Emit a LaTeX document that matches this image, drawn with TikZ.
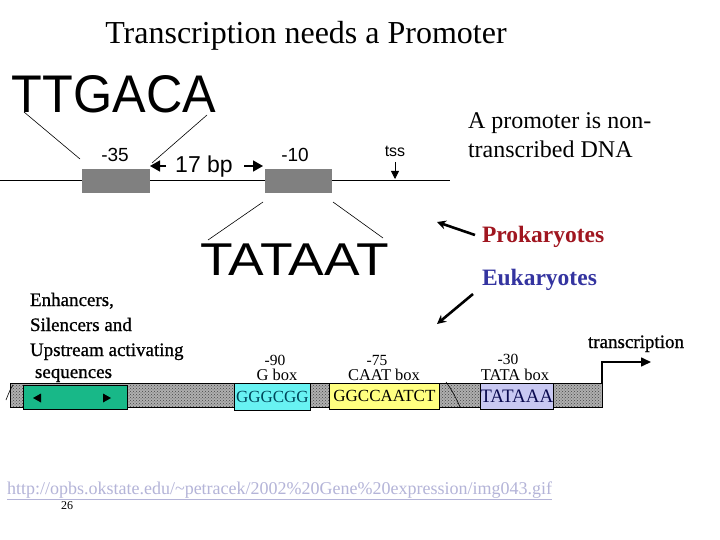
\documentclass[tikz,border=0pt]{standalone}
\usepackage{fontspec}
\setmainfont{Liberation Serif}
\newfontfamily\sansf{Liberation Sans}
\newfontfamily\heavyserif[FakeBold=0.8]{Liberation Serif}
\usetikzlibrary{arrows.meta,patterns}
\definecolor{progray}{RGB}{128,128,128}
\definecolor{bargray}{RGB}{175,175,175}
\definecolor{greenbox}{RGB}{24,184,136}
\definecolor{cyanbox}{RGB}{104,242,242}
\definecolor{yellowbox}{RGB}{255,255,128}
\definecolor{lavbox}{RGB}{200,200,242}
\definecolor{prored}{RGB}{160,22,32}
\definecolor{eukblue}{RGB}{52,52,160}
\definecolor{urlc}{RGB}{180,180,216}
\definecolor{gtext}{RGB}{0,70,90}
\definecolor{ttext}{RGB}{10,10,80}
\begin{document}
\begin{tikzpicture}[x=1pt,y=-1pt,
  txt/.style={inner sep=0pt, outer sep=0pt},
  thinline/.style={line width=0.6pt},
  fatarrow/.style={line width=2.6pt, -{Stealth[length=9pt,width=9pt]}},
  seqbox/.style={draw=black, line width=0.8pt, inner sep=0pt, anchor=north west},
  graybox/.style={fill=progray, inner sep=0pt, anchor=north west, minimum width=68pt, minimum height=24pt},
  lbl/.style={txt, anchor=base, font=\fontsize{16.5}{18}\selectfont},
  numlbl/.style={txt, anchor=base, font=\fontsize{15.5}{17}\selectfont}
]
\useasboundingbox (0,0) rectangle (720,540);
\fill[white] (0,0) rectangle (720,540);

% title
\node[txt, anchor=base] (title) at (306,44) {\fontsize{32}{36}\selectfont Transcription needs a Promoter};

% ---------- prokaryotic promoter graphic ----------
\coordinate (dnaL) at (0,181);
\coordinate (dnaR) at (450,181);
\draw[line width=1pt] (dnaL) -- (dnaR);
\node[graybox] (b35) at (82,169) {};
\node[graybox, minimum width=67pt] (b10) at (265,169) {};
\node[txt, anchor=base] (m35) at (115,162) {\sansf\fontsize{19}{22}\selectfont -35};
\node[txt, anchor=base] (m10) at (295,162) {\sansf\fontsize{19}{22}\selectfont -10};
\node[txt, anchor=base] (bp) at (204,173) {\sansf\fontsize{23}{26}\selectfont 17 bp};
\coordinate (bpLs) at (166,166);
\coordinate (bpLt) at (150,166);
\coordinate (bpRs) at (244,166);
\coordinate (bpRt) at (263,166);
\draw[line width=1.6pt, -{Triangle[length=10pt,width=11pt]}] (bpLs) -- (bpLt);
\draw[line width=1.6pt, -{Triangle[length=10pt,width=11pt]}] (bpRs) -- (bpRt);
\node[txt, anchor=base west] (ttgaca) at (12,113) {\sansf\fontsize{53}{60}\selectfont\scalebox{0.95}[1]{TTGACA}};
\node[txt, anchor=base west] (tataat) at (200,275) {\sansf\fontsize{46}{52}\selectfont\scalebox{1.16}[1]{TATAAT}};
\coordinate (t1a) at (24,112);  \coordinate (t1b) at (80,159);
\coordinate (t2a) at (207,115); \coordinate (t2b) at (152,163);
\draw[thinline] (t1a) -- (t1b);
\draw[thinline] (t2a) -- (t2b);
\coordinate (u1a) at (263,202); \coordinate (u1b) at (208,240);
\coordinate (u2a) at (333,202); \coordinate (u2b) at (383,238);
\draw[thinline] (u1a) -- (u1b);
\draw[thinline] (u2a) -- (u2b);
\node[txt, anchor=base] (tss) at (395,157) {\sansf\fontsize{16}{18}\selectfont tss};
\coordinate (tssa) at (395,162);
\coordinate (tssb) at (395,179);
\draw[line width=0.8pt, -{Triangle[length=8pt,width=8pt]}] (tssa) -- (tssb);

% ---------- right-hand text ----------
\node[txt, anchor=base west] (prom1) at (468,129) {\fontsize{24}{26}\selectfont A promoter is non-};
\node[txt, anchor=base west] (prom2) at (468,158) {\fontsize{24}{26}\selectfont transcribed DNA};
\node[txt, anchor=base west, text=prored] (pro) at (482,243) {\fontsize{23.5}{26}\selectfont\bfseries Prokaryotes};
\node[txt, anchor=base west, text=eukblue] (euk) at (482,285) {\fontsize{23.5}{26}\selectfont\bfseries Eukaryotes};
\coordinate (pa) at (475,235); \coordinate (pb) at (437,222);
\coordinate (ea) at (473,294); \coordinate (eb) at (437,324);
\draw[fatarrow] (pa) -- (pb);
\draw[fatarrow] (ea) -- (eb);

% ---------- eukaryotic promoter graphic ----------
\node[txt, anchor=base west] (enh1) at (30,306) {\heavyserif\fontsize{19}{22}\selectfont Enhancers,};
\node[txt, anchor=base west] (enh2) at (30,331) {\heavyserif\fontsize{19}{22}\selectfont Silencers and};
\node[txt, anchor=base west] (enh3) at (30,356) {\heavyserif\fontsize{19}{22}\selectfont Upstream activating};
\node[txt, anchor=base west] (enh4) at (35,378) {\heavyserif\fontsize{19}{22}\selectfont sequences};

\draw[line width=0.9pt, fill=bargray] (10,383) rectangle (602,407);
\fill[pattern=crosshatch dots, pattern color=gray!55!black] (11,384) rectangle (601,406);
\draw[line width=0.9pt] (10,383) -- (602,383);
\draw[thinline] (13,385) .. controls (10,390) .. (6,400);
\draw[thinline] (446,382) .. controls (452,390) and (456,398) .. (460,407);

\node[seqbox, fill=greenbox, minimum width=104pt, minimum height=24pt] (enhbox) at (23,385) {};
\fill (33,398) -- (41,393.5) -- (41,402.5) -- cycle;
\fill (111,398) -- (103,393.5) -- (103,402.5) -- cycle;

\node[seqbox, fill=cyanbox, minimum width=76pt, minimum height=27pt, text=gtext,
      font=\fontsize{17}{19}\selectfont] (gbox) at (234,383) {GGGCGG};
\node[seqbox, fill=yellowbox, minimum width=110pt, minimum height=26pt,
      font=\fontsize{17}{19}\selectfont] (caatbox) at (329,383) {GGCCAATCT};
\node[seqbox, fill=lavbox, minimum width=71pt, minimum height=26pt, text=ttext,
      font=\fontsize{19}{21}\selectfont] (tatabox) at (480,383) {TATAAA};

\node[numlbl] (n90) at (275,365) {-90};
\node[lbl] (lg) at (277,380) {G box};
\node[numlbl] (n75) at (377,365) {-75};
\node[lbl] (lc) at (384,380) {CAAT box};
\node[numlbl] (n30) at (508,364) {-30};
\node[lbl] (lt) at (515,380) {TATA box};

\coordinate (trA) at (602,383);
\coordinate (trB) at (602,362);
\coordinate (trC) at (651,362);
\draw[line width=1.6pt, -{Triangle[length=10pt,width=9pt]}] (trA) -- (trB) -- (trC);
\node[txt, anchor=base] (trans) at (636,348) {\heavyserif\fontsize{19}{22}\selectfont transcription};

% ---------- footer ----------
\node[txt, anchor=base west, text=urlc] (url) at (7,494)
  {\fontsize{18}{20}\selectfont\underline{http://opbs.okstate.edu/\textasciitilde petracek/2002\%20Gene\%20expression/img043.gif}};
\node[txt, anchor=base] (page) at (67,509) {\fontsize{12}{14}\selectfont 26};
\end{tikzpicture}
\end{document}
